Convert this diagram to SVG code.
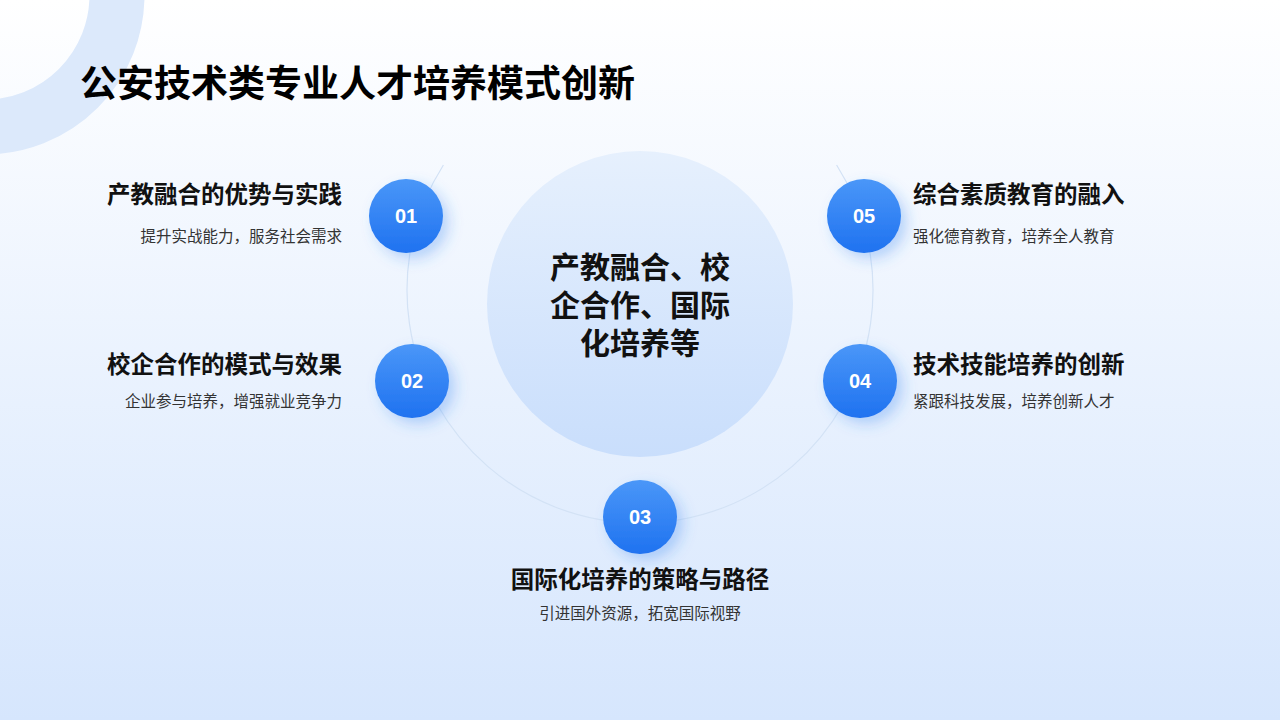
<svg xmlns="http://www.w3.org/2000/svg" width="1280" height="720" viewBox="0 0 1280 720">
<defs>
<linearGradient id="bg" x1="0" y1="0" x2="0" y2="1"><stop offset="0" stop-color="#ffffff"/><stop offset="1" stop-color="#d6e6fd"/></linearGradient>
<linearGradient id="big" x1="0" y1="0" x2="0" y2="1"><stop offset="0" stop-color="#e6f0fd"/><stop offset="1" stop-color="#c9defc"/></linearGradient>
<linearGradient id="nb" x1="0" y1="0" x2="0" y2="1"><stop offset="0" stop-color="#4a97f8"/><stop offset="1" stop-color="#1f72f0"/></linearGradient>
<filter id="sh" x="-50%" y="-50%" width="200%" height="200%"><feDropShadow dx="6" dy="6" stdDeviation="7" flood-color="#2f7df0" flood-opacity="0.3"/></filter>
<style>
.n{fill:url(#nb);filter:url(#sh)}
.num{font-family:"Liberation Sans",Arial,sans-serif;font-weight:bold;font-size:20px;fill:#fff;text-anchor:middle}
.t{font-family:"Noto Sans CJK SC",sans-serif;font-weight:bold;font-size:23.5px;fill:#111}
.s{font-family:"Noto Sans CJK SC",sans-serif;font-size:15.5px;fill:#333}
.ct{font-family:"Noto Sans CJK SC",sans-serif;font-weight:bold;font-size:30px;fill:#111;text-anchor:middle}
.l{text-anchor:end}
.c{text-anchor:middle}
</style>
</defs>
<rect width="1280" height="720" fill="url(#bg)"/>
<circle cx="-15" cy="-5" r="132" fill="none" stroke="#dce9fb" stroke-width="55"/>
<text x="80" y="97" font-family="Noto Sans CJK SC,sans-serif" font-weight="bold" font-size="37" fill="#000">公安技术类专业人才培养模式创新</text>
<g id="connectors"><path d="M443.4,165 A233 233 0 1 0 836.6,165" fill="none" stroke="#d3e2f5" stroke-width="1.2"/></g>
<g id="center"><circle cx="640" cy="304" r="153" fill="url(#big)"/>
<text class="ct" x="640" y="278">产教融合、校</text>
<text class="ct" x="640" y="316">企合作、国际</text>
<text class="ct" x="640" y="354">化培养等</text></g>
<g id="n1"><circle class="n" cx="406" cy="216" r="37"/><text class="num" x="406" y="223">01</text>
<text class="t l" x="342" y="203">产教融合的优势与实践</text><text class="s l" x="342" y="242">提升实战能力，服务社会需求</text></g>
<g id="n2"><circle class="n" cx="412" cy="381" r="37"/><text class="num" x="412" y="388">02</text>
<text class="t l" x="342" y="373">校企合作的模式与效果</text><text class="s l" x="342" y="407">企业参与培养，增强就业竞争力</text></g>
<g id="n3"><circle class="n" cx="640" cy="517" r="37"/><text class="num" x="640" y="524">03</text>
<text class="t c" x="640" y="588">国际化培养的策略与路径</text><text class="s c" x="640" y="619">引进国外资源，拓宽国际视野</text></g>
<g id="n4"><circle class="n" cx="860" cy="381" r="37"/><text class="num" x="860" y="388">04</text>
<text class="t" x="913" y="373">技术技能培养的创新</text><text class="s" x="913" y="407">紧跟科技发展，培养创新人才</text></g>
<g id="n5"><circle class="n" cx="864" cy="216" r="37"/><text class="num" x="864" y="223">05</text>
<text class="t" x="913" y="203">综合素质教育的融入</text><text class="s" x="913" y="242">强化德育教育，培养全人教育</text></g>
</svg>
